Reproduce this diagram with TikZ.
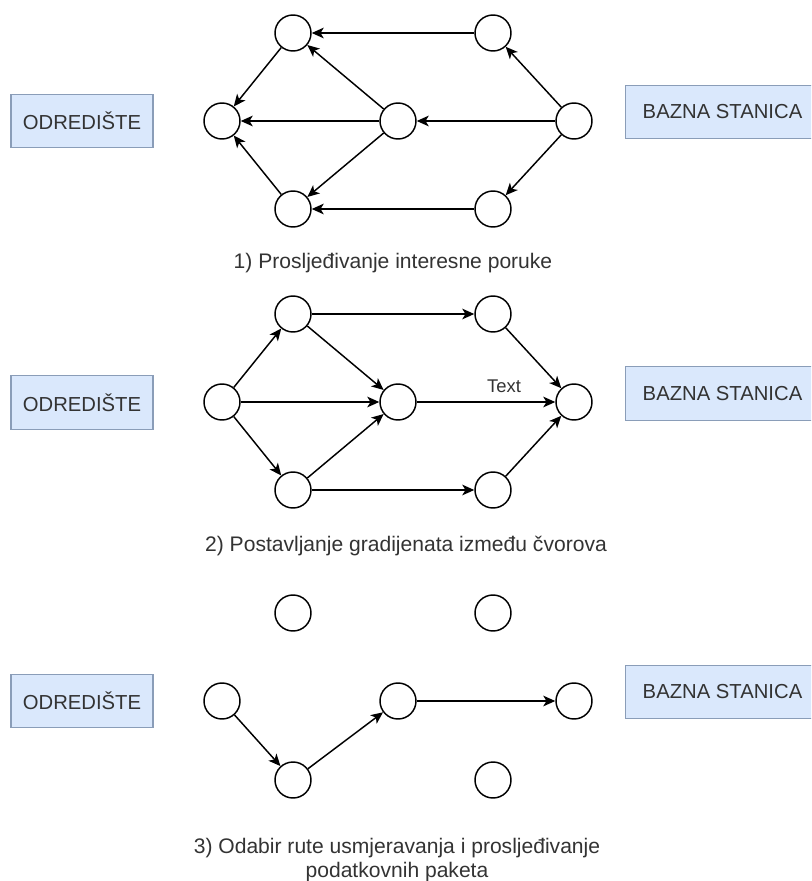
\documentclass[tikz,border=0pt]{standalone}
\usepackage{fontspec}
\setmainfont{Liberation Sans}
\usetikzlibrary{arrows.meta}
\definecolor{boxfill}{HTML}{DAE8FC}
\definecolor{boxline}{HTML}{8A9DB8}
\definecolor{txt}{HTML}{333333}
\begin{document}
\begin{tikzpicture}[x=0.75pt,y=-0.75pt,
  nd/.style={circle,draw=black,fill=white,line width=1.1pt,minimum size=27pt,inner sep=0pt},
  lbl/.style={rectangle,draw=boxline,fill=boxfill,line width=0.8pt,text=txt,font=\fontsize{15.2}{18}\selectfont,minimum height=40pt,inner sep=0pt},
  captxt/.style={text=txt,font=\fontsize{15.8}{17.5}\selectfont,align=center},
  ar/.style={-{Stealth[length=9pt,width=8pt,inset=2.4pt]},line width=1.1pt}]
\useasboundingbox (0,0) rectangle (811,881);
\clip (0,0) rectangle (811,881);
\fill[white] (0,0) rectangle (811,881);

% ---------- Panel 1 ----------
\node[lbl,minimum width=106.5pt] (o1) at (82,121) {ODREDIŠTE};
\node[lbl,minimum width=145pt] (b1) at (722.5,112) {BAZNA STANICA};
\node[nd] (p1tl) at (293,33) {};
\node[nd] (p1tr) at (493,33) {};
\node[nd] (p1l) at (222,121) {};
\node[nd] (p1m) at (398,121) {};
\node[nd] (p1r) at (574,121) {};
\node[nd] (p1bl) at (293,209) {};
\node[nd] (p1br) at (493,209) {};
\draw[ar] (p1tr) -- (p1tl);
\draw[ar] (p1r) -- (p1tr);
\draw[ar] (p1r) -- (p1m);
\draw[ar] (p1r) -- (p1br);
\draw[ar] (p1br) -- (p1bl);
\draw[ar] (p1m) -- (p1tl);
\draw[ar] (p1m) -- (p1l);
\draw[ar] (p1m) -- (p1bl);
\draw[ar] (p1tl) -- (p1l);
\draw[ar] (p1bl) -- (p1l);
\node[captxt] (c1) at (393,263) {1) Prosljeđivanje interesne poruke};

% ---------- Panel 2 ----------
\node[lbl,minimum width=106.5pt] (o2) at (82,402.5) {ODREDIŠTE};
\node[lbl,minimum width=145pt] (b2) at (722.5,393.5) {BAZNA STANICA};
\node[nd] (p2tl) at (293,314) {};
\node[nd] (p2tr) at (493,314) {};
\node[nd] (p2l) at (222,402) {};
\node[nd] (p2m) at (398,402) {};
\node[nd] (p2r) at (574,402) {};
\node[nd] (p2bl) at (293,490) {};
\node[nd] (p2br) at (493,490) {};
\draw[ar] (p2l) -- (p2tl);
\draw[ar] (p2l) -- (p2m);
\draw[ar] (p2l) -- (p2bl);
\draw[ar] (p2tl) -- (p2tr);
\draw[ar] (p2tl) -- (p2m);
\draw[ar] (p2bl) -- (p2m);
\draw[ar] (p2bl) -- (p2br);
\draw[ar] (p2m) -- (p2r);
\draw[ar] (p2tr) -- (p2r);
\draw[ar] (p2br) -- (p2r);
\node[text=txt,font=\fontsize{13.8}{16}\selectfont] (t2) at (504,386) {Text};
\node[captxt] (c2) at (406,546) {2) Postavljanje gradijenata između čvorova};

% ---------- Panel 3 ----------
\node[lbl,minimum width=106.5pt] (o3) at (82,701) {ODREDIŠTE};
\node[lbl,minimum width=145pt] (b3) at (722.5,692) {BAZNA STANICA};
\node[nd] (p3tl) at (293,613) {};
\node[nd] (p3tr) at (493,613) {};
\node[nd] (p3l) at (222,701) {};
\node[nd] (p3m) at (398,701) {};
\node[nd] (p3r) at (574,701) {};
\node[nd] (p3bl) at (293,780) {};
\node[nd] (p3br) at (493,780) {};
\draw[ar] (p3l) -- (p3bl);
\draw[ar] (p3bl) -- (p3m);
\draw[ar] (p3m) -- (p3r);
\node[captxt] (c3) at (397,860) {3) Odabir rute usmjeravanja i prosljeđivanje\\podatkovnih paketa};
\end{tikzpicture}
\end{document}
